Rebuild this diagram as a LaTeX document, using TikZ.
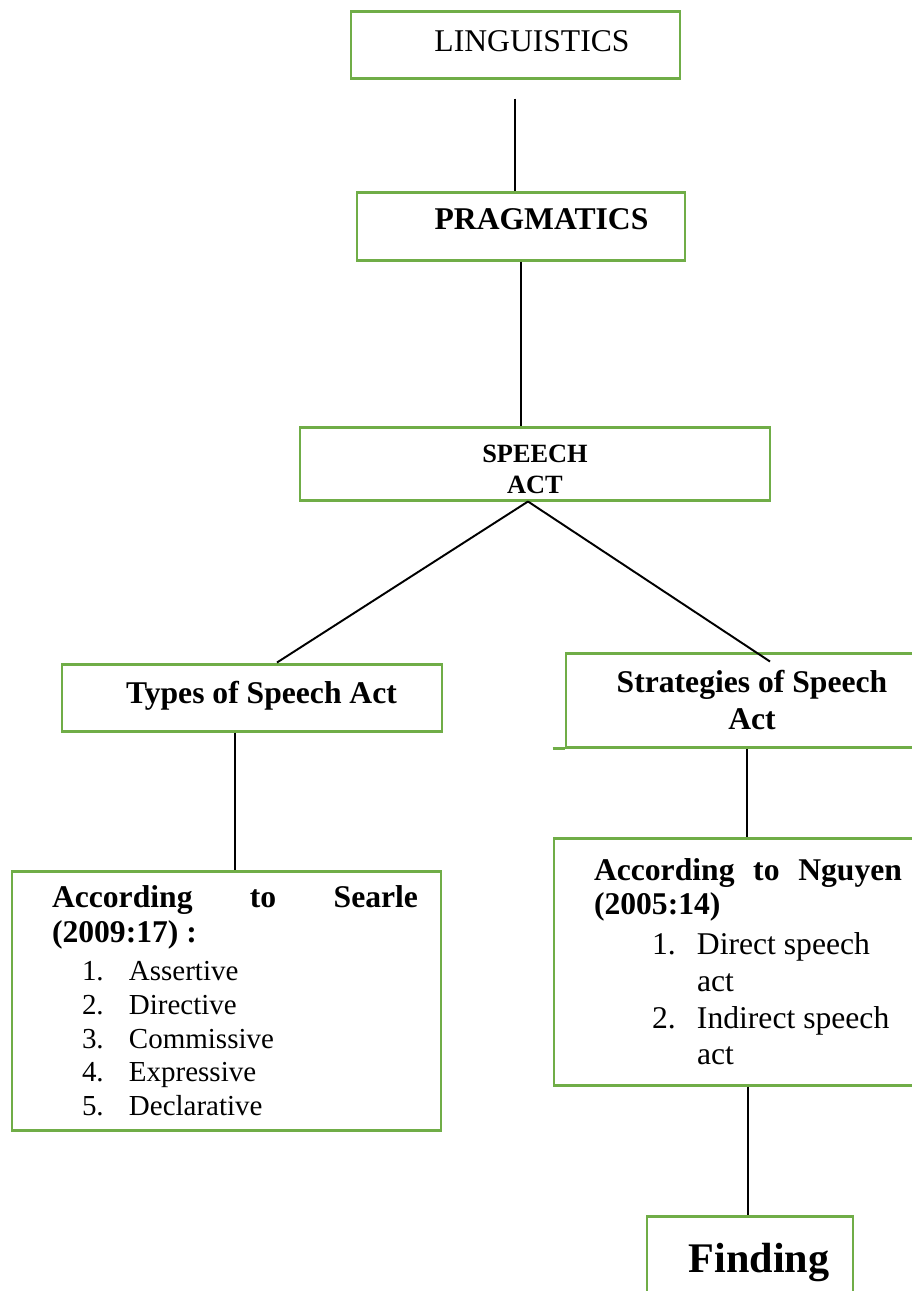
\documentclass[tikz,border=0pt]{standalone}
\usepackage{fontspec}
\setmainfont{Liberation Serif}
\definecolor{boxgreen}{RGB}{112,173,71}

\begin{document}
\begin{tikzpicture}[
  box/.style={draw=boxgreen, line width=1.7pt, inner sep=0pt},
  link/.style={line width=1.1pt}]

  \useasboundingbox (0,0) rectangle (18.24,-25.82);

  \node[box, minimum width=6.58cm, minimum height=1.34cm, font=\fontsize{18}{20}\selectfont] (ling) at (10.31,-0.89) {\hspace*{0.66cm}\raisebox{0.06cm}[\height][\depth]{LINGUISTICS}};
  \node[box, minimum width=6.56cm, minimum height=1.36cm, font=\fontsize{18}{20}\selectfont\bfseries] (prag) at (10.42,-4.52) {\hspace*{0.82cm}\raisebox{0.14cm}[\height][\depth]{PRAGMATICS}};
  \node[box, minimum width=9.40cm, minimum height=1.46cm, font=\fontsize{15}{17.6}\selectfont\bfseries] (speech) at (10.70,-9.27) {\raisebox{-0.11cm}[\height][\depth]{\parbox{3cm}{\centering SPEECH\\ACT}}};

  \node[box, minimum width=7.60cm, minimum height=1.34cm, font=\fontsize{18}{20}\selectfont\bfseries] (types) at (5.04,-13.95) {\hspace*{0.38cm}\raisebox{0.04cm}[\height][\depth]{Types of Speech Act}};
  \node[box, minimum width=7.44cm, minimum height=1.88cm, align=center, font=\fontsize{18}{21}\selectfont\bfseries] (strat) at (15.04,-14.00) {Strategies of Speech\\Act};

  \node[box, minimum width=8.58cm, minimum height=5.18cm] (searle) at (4.53,-20.01) {\hspace*{0.34cm}\parbox{7.32cm}{%
    {\fontsize{18}{19.8}\selectfont\bfseries According\hfill to\hfill Searle\par (2009:17) :\par}
    \vspace{3pt}
    {\fontsize{16.5}{19.1}\selectfont
    \hspace*{0.6cm}\makebox[0.94cm][l]{1.}Assertive\par
    \hspace*{0.6cm}\makebox[0.94cm][l]{2.}Directive\par
    \hspace*{0.6cm}\makebox[0.94cm][l]{3.}Commissive\par
    \hspace*{0.6cm}\makebox[0.94cm][l]{4.}Expressive\par
    \hspace*{0.6cm}\makebox[0.94cm][l]{5.}Declarative\par}}};

  \node[box, minimum width=7.76cm, minimum height=4.94cm] (nguyen) at (14.96,-19.23) {\parbox{6.16cm}{%
    {\fontsize{18}{19.8}\selectfont\bfseries According\hfill to\hfill Nguyen\par (2005:14)\par}
    \vspace{2pt}
    {\fontsize{18}{20.8}\selectfont
    \hspace*{1.16cm}\makebox[0.9cm][l]{1.}Direct speech\par
    \hspace*{2.06cm}act\par
    \hspace*{1.16cm}\makebox[0.9cm][l]{2.}Indirect speech\par
    \hspace*{2.06cm}act\par}}};

  \node[box, minimum width=4.12cm, minimum height=1.68cm, font=\fontsize{24}{26}\selectfont\bfseries] (finding) at (15.00,-25.16) {\hspace*{0.36cm}\raisebox{-0.1cm}[\height][\depth]{Finding}};

  \coordinate (cross) at ([xshift=0.36cm,yshift=-0.2cm]strat.north);

  \draw[link] ([xshift=-0.01cm,yshift=-0.38cm]ling.south) -- ([xshift=-0.01cm]ling.south |- prag.north);
  \draw[link] (prag.south) -- (prag.south |- speech.north);
  \draw[link] ([xshift=-0.14cm]speech.south) -- ([xshift=0.5cm]types.north);
  \draw[link] ([xshift=-0.14cm]speech.south) -- (cross);
  \draw[link] ([xshift=-0.34cm]types.south) -- ([xshift=-0.34cm]types.south |- searle.north);
  \draw[link] ([xshift=-0.1cm]strat.south) -- ([xshift=-0.1cm]strat.south |- nguyen.north);
  \draw[link] (nguyen.south) -- (nguyen.south |- finding.north);
  \draw[boxgreen, line width=1.7pt] ([xshift=-0.24cm]strat.south west) -- (strat.south west);

\end{tikzpicture}
\end{document}
